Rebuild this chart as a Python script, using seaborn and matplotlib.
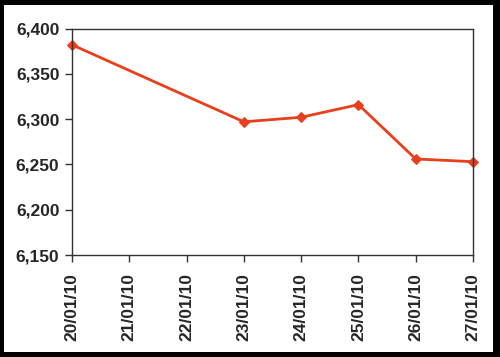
import matplotlib
matplotlib.use("Agg")
import matplotlib.pyplot as plt
import seaborn as sns
import pandas as pd
from matplotlib.patches import Rectangle

dates = ["20/01/10", "21/01/10", "22/01/10", "23/01/10", "24/01/10", "25/01/10", "26/01/10", "27/01/10"]
point_dates = ["20/01/10", "23/01/10", "24/01/10", "25/01/10", "26/01/10", "27/01/10"]
values = [6382, 6297, 6302, 6316, 6256, 6253]
yticks = [6150, 6200, 6250, 6300, 6350, 6400]

sns.set_style("white")
plt.rcParams['font.family'] = ['Liberation Sans', 'DejaVu Sans']

pos = [dates.index(d) for d in point_dates]
df = pd.DataFrame({"x": pos, "y": values})

fig = plt.figure(figsize=(5, 3.57), dpi=100)
fig.patch.set_facecolor("black")
fig.add_artist(Rectangle((4/500, 5/357), (493-4)/500, (352-5)/357,
                         transform=fig.transFigure, facecolor="white", edgecolor="none", zorder=0))
ax = fig.add_axes([72/500, (357-255)/357, (473-72)/500, (255-28.5)/357])
ax.set_facecolor("white")

sns.lineplot(data=df, x="x", y="y", ax=ax, color="#E8401C", linewidth=2,
             marker="D", markersize=5, markeredgecolor="#E8401C", clip_on=False)

ax.set_xlim(0, len(dates) - 1)
ax.set_ylim(6150, 6400)
ax.set_xticks(range(len(dates)))
ax.set_xticklabels(dates, rotation=90, fontsize=12.5, fontweight="bold")
ax.set_yticks(yticks)
ax.set_yticklabels([f"{v:,}" for v in yticks], fontsize=12.5, fontweight="bold")
ax.set_xlabel("")
ax.set_ylabel("")
for s in ax.spines.values():
    s.set_visible(True)
    s.set_color("#333333")
    s.set_linewidth(1)
ax.tick_params(axis="both", direction="out", length=5, width=1, color="#333333",
               left=True, bottom=True, pad=4)
ax.tick_params(axis="x", pad=8)
fig.savefig("out.png", dpi=100, facecolor="black")
